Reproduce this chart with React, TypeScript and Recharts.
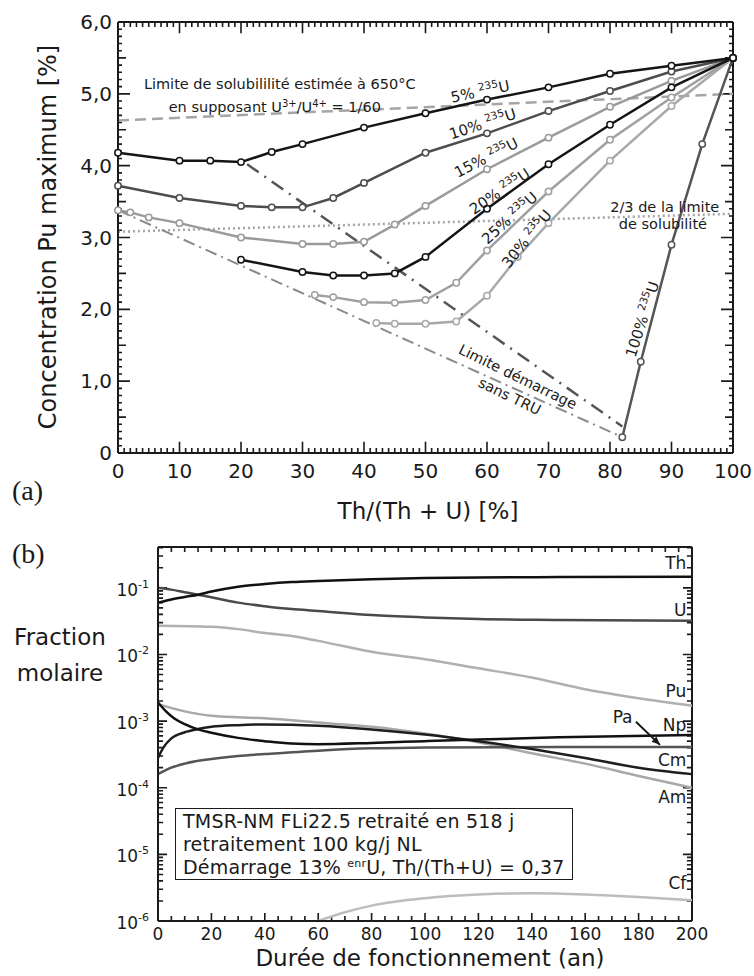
import React from 'react'
import { LineChart, Line, XAxis, YAxis, ReferenceDot, ReferenceLine } from 'recharts'

const FONT = '"DejaVu Sans", sans-serif'
const INK = '#1a1a1a'

// ---- (a) Pu maximum vs Th/(Th+U) ----
const x5 = [0, 10, 15, 20, 25, 30, 40, 50, 60, 70, 80, 90, 100]
const y5 = [4.18, 4.07, 4.07, 4.05, 4.19, 4.3, 4.53, 4.73, 4.92, 5.09, 5.28, 5.39, 5.5]
const x10 = [0, 10, 20, 25, 30, 35, 40, 50, 60, 70, 80, 90, 100]
const y10 = [3.72, 3.55, 3.44, 3.42, 3.42, 3.55, 3.76, 4.18, 4.45, 4.76, 5.04, 5.31, 5.5]
const x15 = [0, 2, 5, 10, 20, 30, 35, 40, 45, 50, 60, 70, 80, 90, 100]
const y15 = [3.38, 3.35, 3.28, 3.2, 3.0, 2.91, 2.91, 2.94, 3.18, 3.44, 3.95, 4.39, 4.82, 5.18, 5.5]
const x20 = [20, 30, 35, 40, 45, 50, 60, 70, 80, 90, 100]
const y20 = [2.69, 2.52, 2.47, 2.47, 2.5, 2.73, 3.4, 4.02, 4.57, 5.09, 5.5]
const x25 = [32, 35, 40, 45, 50, 55, 60, 70, 80, 90, 100]
const y25 = [2.2, 2.17, 2.1, 2.09, 2.13, 2.37, 2.82, 3.64, 4.36, 4.95, 5.5]
const x30 = [42, 45, 50, 55, 60, 65, 70, 80, 90, 100]
const y30 = [1.81, 1.8, 1.8, 1.83, 2.19, 2.73, 3.2, 4.07, 4.83, 5.5]
const x100 = [82, 85, 90, 95, 100]
const y100 = [0.22, 1.27, 2.9, 4.3, 5.5]

const xLimit = [0, 100]
const ySolub = [4.63, 5.0]
const yTwoThirds = [3.08, 3.33]
const xStart = [0, 82]
const yStart = [3.38, 0.22]
const xUpper = [21, 82]
const yUpper = [4.02, 0.37]

// ---- (b) fractions molaires vs durée ----
const tThU = [0, 5, 10, 15, 20, 30, 40, 50, 60, 80, 100, 120, 150, 200]
const fTh = [0.06, 0.067, 0.073, 0.079, 0.088, 0.104, 0.114, 0.122, 0.127, 0.135, 0.14, 0.143, 0.145, 0.147]
const fU = [0.1, 0.094, 0.086, 0.079, 0.072, 0.06, 0.053, 0.048, 0.045, 0.039, 0.036, 0.034, 0.033, 0.032]
const tPu = [0, 20, 30, 40, 50, 60, 80, 100, 120, 140, 160, 180, 200]
const fPu = [0.027, 0.026, 0.024, 0.021, 0.019, 0.016, 0.011, 0.0085, 0.0062, 0.0045, 0.003, 0.0022, 0.0017]
const tNp = [0, 3, 6, 10, 15, 20, 30, 40, 50, 60, 80, 100, 120, 150, 200]
const fNp = [0.0019, 0.0014, 0.0011, 0.0009, 0.00075, 0.00067, 0.00056, 0.0005, 0.00046, 0.00045, 0.00047, 0.0005, 0.00053, 0.00057, 0.00062]
const tCm = [0, 2, 5, 10, 15, 20, 30, 40, 50, 60, 80, 100, 120, 140, 160, 180, 200]
const fCm = [0.00028, 0.0004, 0.00055, 0.00068, 0.00076, 0.00082, 0.00087, 0.00089, 0.00088, 0.00085, 0.00075, 0.00063, 0.0005, 0.00038, 0.00028, 0.0002, 0.00016]
const tAm = [0, 10, 20, 40, 60, 80, 100, 120, 140, 160, 180, 200]
const fAm = [0.0018, 0.0014, 0.0012, 0.0011, 0.00095, 0.00082, 0.00065, 0.00048, 0.00033, 0.00023, 0.00015, 0.0001]
const tPa = [0, 5, 10, 20, 30, 40, 60, 80, 100, 150, 200]
const fPa = [0.00016, 0.0002, 0.00023, 0.00027, 0.0003, 0.00032, 0.00036, 0.00039, 0.0004, 0.00041, 0.00041]
const tCf = [60, 70, 80, 100, 120, 140, 160, 180, 200]
const fCf = [1e-6, 1.35e-6, 1.7e-6, 2.2e-6, 2.5e-6, 2.6e-6, 2.5e-6, 2.3e-6, 2.05e-6]

const zip = (xs: number[], ys: number[]) => xs.map((x, i) => ({ x, y: ys[i] }))

const seriesA = [
  { id: '30', data: zip(x30, y30), color: '#a9a9a9' },
  { id: '25', data: zip(x25, y25), color: '#a0a0a0' },
  { id: '15', data: zip(x15, y15), color: '#9a9a9a' },
  { id: '100', data: zip(x100, y100), color: '#555' },
  { id: '10', data: zip(x10, y10), color: '#4d4d4d' },
  { id: '20', data: zip(x20, y20), color: '#151515' },
  { id: '5', data: zip(x5, y5), color: '#151515' },
]

const curveLabels = [
  { pct: '5%', x: 58.9, y: 5.03, angle: -12 },
  { pct: '10%', x: 59.3, y: 4.58, angle: -18 },
  { pct: '15%', x: 59.9, y: 4.11, angle: -27 },
  { pct: '20%', x: 62.1, y: 3.64, angle: -34 },
  { pct: '25%', x: 63.7, y: 3.27, angle: -42 },
  { pct: '30%', x: 66.5, y: 2.98, angle: -51 },
  { pct: '100%', x: 85.3, y: 1.86, angle: -72 },
]

const notesA = [
  { text: 'Limite de solubililité estimée à 650°C', x: 26.3, y: 5.13, angle: 0 },
  { text: '2/3 de la limite', x: 88.9, y: 3.43, angle: 0 },
  { text: 'de solubilité', x: 88.6, y: 3.19, angle: 0 },
  { text: 'Limite démarrage', x: 65, y: 1.06, angle: 26 },
  { text: 'sans TRU', x: 63.7, y: 0.79, angle: 26 },
]

const seriesB = [
  { id: 'Cf', data: zip(tCf, fCf), color: '#bdbdbd' },
  { id: 'Am', data: zip(tAm, fAm), color: '#a8a8a8' },
  { id: 'Pu', data: zip(tPu, fPu), color: '#b0b0b0' },
  { id: 'Pa', data: zip(tPa, fPa), color: '#555' },
  { id: 'U', data: zip(tThU, fU), color: '#4a4a4a' },
  { id: 'Cm', data: zip(tCm, fCm), color: '#1e1e1e' },
  { id: 'Np', data: zip(tNp, fNp), color: '#111' },
  { id: 'Th', data: zip(tThU, fTh), color: '#111' },
]

const elementLabels = [
  { name: 'Th', y: 0.237 },
  { name: 'U', y: 0.047 },
  { name: 'Pu', y: 0.0028 },
  { name: 'Np', y: 0.00088 },
  { name: 'Cm', y: 0.00026 },
  { name: 'Am', y: 0.000073 },
  { name: 'Cf', y: 0.0000037 },
]

const range = (n: number, step: number) => Array.from({ length: n }, (_, i) => Math.round(i * step * 1000) / 1000)
const ticksAXMajor = range(11, 10)
const ticksAXMinor = range(101, 1)
const ticksAYMajor = range(7, 1)
const ticksAYMinor = range(61, 0.1)
const ticksBXMajor = range(11, 20)
const ticksBXMinor = range(41, 5)
const ticksBYMajor = [1e-6, 1e-5, 1e-4, 1e-3, 1e-2, 1e-1]
const ticksBYMinor: number[] = []
for (let e = -6; e <= -1; e++) {
  for (let m = 1; m <= 9; m++) {
    const v = m * Math.pow(10, e)
    if (v <= 0.41) ticksBYMinor.push(v)
  }
}

// inward tick marks as broken polylines (null breaks the line between ticks)
const xTickData = (vals: number[], y0: number, y1: (v: number) => number) =>
  vals.flatMap((v) => [{ x: v, y: y0 }, { x: v, y: y1(v) }, { x: v, y: null }])
const yTickData = (vals: number[], x0: number, x1: (v: number) => number) =>
  vals.flatMap((v) => [{ x: x0, y: v }, { x: x1(v), y: v }, { x: x0, y: null }])

const frame = { stroke: INK, strokeWidth: 2 }

const AXLabel = (p: any) => (
  <text x={p.x} y={p.y + 25} textAnchor="middle" fontSize={20} fontFamily={FONT} fill={INK}>
    {p.payload.value}
  </text>
)

const AYLabel = (p: any) => {
  const v = p.payload.value
  return (
    <text x={p.x - 6} y={p.y + 7} textAnchor="end" fontSize={20} fontFamily={FONT} fill={INK}>
      {v === 0 ? '0' : v.toFixed(1).replace('.', ',')}
    </text>
  )
}

const BXLabel = (p: any) => (
  <text x={p.x} y={p.y + 19} textAnchor="middle" fontSize={17} fontFamily={FONT} fill={INK}>
    {p.payload.value}
  </text>
)

const BYLabel = (p: any) => (
  <text x={p.x - 9} y={p.y + 8} textAnchor="end" fontSize={17} fontFamily={FONT} fill={INK}>
    10<tspan dy={-8} fontSize={11}>{Math.round(Math.log10(p.payload.value))}</tspan>
  </text>
)

const CurveLabel = ({ cx, cy, pct, angle }: any) => (
  <text x={cx} y={cy + 5} transform={`rotate(${angle} ${cx} ${cy})`} textAnchor="middle"
    fontSize={15} fontFamily={FONT} fill={INK}>
    {pct} <tspan dy={-6} fontSize={10.5}>235</tspan>
    <tspan dy={6}>U</tspan>
  </text>
)

const NoteLabel = ({ cx, cy, text, angle }: any) => (
  <text x={cx} y={cy + 5} transform={`rotate(${angle} ${cx} ${cy})`} textAnchor="middle"
    fontSize={14.5} fontFamily={FONT} fill={INK}>
    {text}
  </text>
)

const Arrow = ({ x1, y1, x2, y2 }: any) => {
  const a = Math.atan2(y2 - y1, x2 - x1)
  const h = 9
  const p1 = `${x2 - h * Math.cos(a - 0.4)},${y2 - h * Math.sin(a - 0.4)}`
  const p2 = `${x2 - h * Math.cos(a + 0.4)},${y2 - h * Math.sin(a + 0.4)}`
  return (
    <g>
      <line x1={x1} y1={y1} x2={x2} y2={y2} stroke={INK} strokeWidth={2} />
      <polygon points={`${x2},${y2} ${p1} ${p2}`} fill={INK} />
    </g>
  )
}

const tickLine = (key: string, data: any[]) => (
  <Line key={key} data={data} dataKey="y" type="linear" stroke={INK} strokeWidth={1.6}
    dot={false} connectNulls={false} isAnimationActive={false} />
)

function PanelA() {
  // tick lengths in axis units (about 11/5 px on x, 12/8/4 px on y)
  const xLen = (v: number) => (v % 10 === 0 ? 0.155 : 0.07)
  const yLen = (v: number) => {
    const k = Math.round(v * 10)
    return k % 10 === 0 ? 1.95 : k % 5 === 0 ? 1.3 : 0.65
  }
  return (
    <LineChart width={754} height={530} margin={{ top: 22, right: 21, left: 0, bottom: 0 }}>
      <XAxis dataKey="x" type="number" domain={[0, 100]} ticks={ticksAXMajor} interval={0}
        tickSize={0} tickMargin={0} tickLine={false} axisLine={frame} height={77} tick={AXLabel} />
      <YAxis type="number" domain={[0, 6]} ticks={ticksAYMajor} interval={0} allowDataOverflow
        tickSize={0} tickMargin={0} tickLine={false} axisLine={frame} width={118} tick={AYLabel} />
      <ReferenceLine x={100} stroke={INK} strokeWidth={2} />
      <ReferenceLine y={6} stroke={INK} strokeWidth={2} />

      {tickLine('tb', xTickData(ticksAXMinor, 0, (v) => xLen(v)))}
      {tickLine('tt', xTickData(ticksAXMinor, 6, (v) => 6 - xLen(v)))}
      {tickLine('tl', yTickData(ticksAYMinor, 0, (v) => yLen(v)))}
      {tickLine('tr', yTickData(ticksAYMinor, 100, (v) => 100 - yLen(v)))}

      <Line data={zip(xLimit, ySolub)} dataKey="y" stroke="#a5a5a5" strokeWidth={2.5} strokeDasharray="11 6"
        dot={false} isAnimationActive={false} />
      <Line data={zip(xLimit, yTwoThirds)} dataKey="y" stroke="#a5a5a5" strokeWidth={2.5} strokeDasharray="2 3"
        dot={false} isAnimationActive={false} />
      <Line data={zip(xStart, yStart)} dataKey="y" stroke="#8a8a8a" strokeWidth={2} strokeDasharray="12 5 2 5"
        dot={false} isAnimationActive={false} />
      <Line data={zip(xUpper, yUpper)} dataKey="y" stroke="#555" strokeWidth={2.5} strokeDasharray="14 7 2 7"
        dot={false} isAnimationActive={false} />

      {seriesA.map((s) => (
        <Line key={s.id} data={s.data} dataKey="y" stroke={s.color} strokeWidth={2.5}
          dot={{ r: 3.2, fill: '#fff', stroke: s.color, strokeWidth: 1.5 }} isAnimationActive={false} />
      ))}

      {curveLabels.map((c) => (
        <ReferenceDot key={c.pct} x={c.x} y={c.y} r={0}
          shape={(p: any) => <CurveLabel cx={p.cx} cy={p.cy} pct={c.pct} angle={c.angle} />} />
      ))}
      {notesA.map((n) => (
        <ReferenceDot key={n.text} x={n.x} y={n.y} r={0}
          shape={(p: any) => <NoteLabel cx={p.cx} cy={p.cy} text={n.text} angle={n.angle} />} />
      ))}
      <ReferenceDot x={25.5} y={4.82} r={0}
        shape={(p: any) => (
          <text x={p.cx} y={p.cy + 5} textAnchor="middle" fontSize={14.5} fontFamily={FONT} fill={INK}>
            en supposant U<tspan dy={-5} fontSize={10}>3+</tspan><tspan dy={5}>/U</tspan>
            <tspan dy={-5} fontSize={10}>4+</tspan><tspan dy={5}> = 1/60</tspan>
          </text>
        )} />
    </LineChart>
  )
}

function PanelB() {
  const yTop = 0.41
  // tick lengths: log factor on x ticks (about 8/5 px), axis units on y ticks (about 9/5 px)
  const xFac = (v: number) => (v % 20 === 0 ? 1.318 : 1.189)
  const yLen = (v: number) => (ticksBYMajor.includes(v) ? 3.4 : 1.9)
  return (
    <LineChart width={754} height={446} margin={{ top: 17, right: 62, left: 0, bottom: 0 }}>
      <XAxis dataKey="x" type="number" domain={[0, 200]} ticks={ticksBXMajor} interval={0}
        tickSize={0} tickMargin={0} tickLine={false} axisLine={frame} height={55} tick={BXLabel} />
      <YAxis type="number" scale="log" domain={[1e-6, yTop]} ticks={ticksBYMajor} interval={0} allowDataOverflow
        tickSize={0} tickMargin={0} tickLine={false} axisLine={frame} width={158} tick={BYLabel} />
      <ReferenceLine x={200} stroke={INK} strokeWidth={2} />
      <ReferenceLine y={yTop} stroke={INK} strokeWidth={2} />

      {tickLine('tb', xTickData(ticksBXMinor, 1e-6, (v) => 1e-6 * xFac(v)))}
      {tickLine('tt', xTickData(ticksBXMinor, yTop, () => yTop / 1.189))}
      {tickLine('tl', yTickData(ticksBYMinor, 0, (v) => yLen(v)))}
      {tickLine('tr', yTickData(ticksBYMinor, 200, (v) => 200 - yLen(v)))}

      {seriesB.map((s) => (
        <Line key={s.id} data={s.data} dataKey="y" type="monotone" stroke={s.color} strokeWidth={2.5}
          dot={false} isAnimationActive={false} />
      ))}

      {elementLabels.map((l) => (
        <ReferenceDot key={l.name} x={199} y={l.y} r={0}
          shape={(p: any) => (
            <text x={p.cx - 3} y={p.cy + 6} textAnchor="end" fontSize={17} fontFamily={FONT} fill={INK}>
              {l.name}
            </text>
          )} />
      ))}
      <ReferenceDot x={174} y={0.00115} r={0}
        shape={(p: any) => (
          <text x={p.cx} y={p.cy + 6} textAnchor="middle" fontSize={17} fontFamily={FONT} fill={INK}>Pa</text>
        )} />
      <ReferenceLine segment={[{ x: 179, y: 0.00098 }, { x: 188, y: 0.00044 }]}
        shape={(p: any) => <Arrow {...p} />} />
    </LineChart>
  )
}

export default function App() {
  return (
    <div style={{ position: 'absolute', left: 0, top: 0, width: 754, height: 976, background: '#fff' }}>
      <div style={{ position: 'absolute', left: 0, top: 0 }}>
        <PanelA />
      </div>
      <div style={{ position: 'absolute', left: 0, top: 530 }}>
        <PanelB />
      </div>
      <div
        style={{
          position: 'absolute', left: 175, top: 808, width: 398, height: 72,
          border: `1.5px solid ${INK}`, boxSizing: 'border-box', padding: '1px 7px',
          fontFamily: FONT, fontSize: 19, lineHeight: '23px', letterSpacing: 0.2, color: INK, background: '#fff',
          whiteSpace: 'nowrap',
        }}
      >
        <div>TMSR-NM FLi22.5 retraité en 518 j</div>
        <div>retraitement 100 kg/j NL</div>
        <div>
          Démarrage 13% <sup style={{ fontSize: 11, lineHeight: 0 }}>enr</sup>U, Th/(Th+U) = 0,37
        </div>
      </div>
      <svg width={754} height={976} style={{ position: 'absolute', left: 0, top: 0, pointerEvents: 'none' }}>
        <text x={48} y={237} transform="rotate(-90 48 237)" textAnchor="middle" dominantBaseline="central"
          fontSize={24} fontFamily={FONT} fill={INK}>
          Concentration Pu maximum [%]
        </text>
        <text x={428} y={519} textAnchor="middle" fontSize={23} fontFamily={FONT} fill={INK}>
          Th/(Th + U) [%]
        </text>
        <text x={12} y={500} fontSize={28} fontFamily="Liberation Serif, serif" fill={INK}>(a)</text>
        <text x={12} y={563} fontSize={28} fontFamily="Liberation Serif, serif" fill={INK}>(b)</text>
        <text x={60} y={645} textAnchor="middle" fontSize={23} fontFamily={FONT} fill={INK}>Fraction</text>
        <text x={60} y={681} textAnchor="middle" fontSize={23} fontFamily={FONT} fill={INK}>molaire</text>
        <text x={430} y={966} textAnchor="middle" fontSize={23} fontFamily={FONT} fill={INK}>
          Durée de fonctionnement (an)
        </text>
      </svg>
    </div>
  )
}
